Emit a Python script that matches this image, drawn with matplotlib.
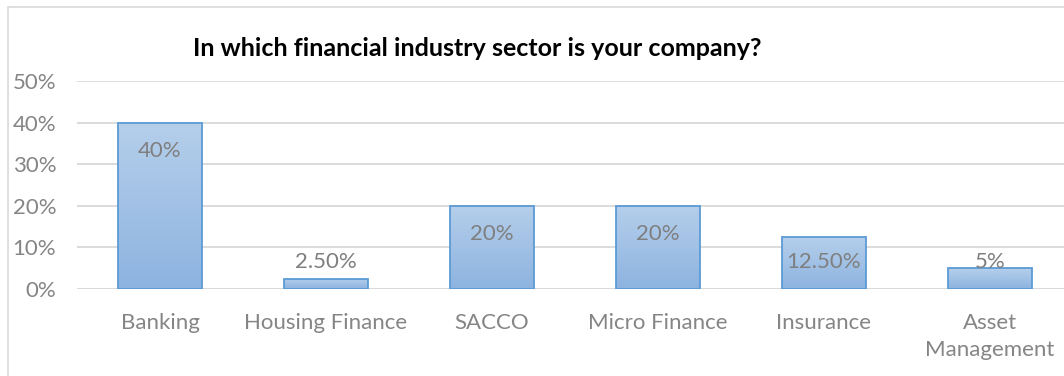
import numpy as np
import matplotlib.pyplot as plt
from matplotlib.patches import Rectangle
from matplotlib.colors import LinearSegmentedColormap

sectors = ['Banking', 'Housing Finance', 'SACCO', 'Micro Finance', 'Insurance', 'Asset\nManagement']
shares = [0.40, 0.025, 0.20, 0.20, 0.125, 0.05]
share_labels = ['40%', '2.50%', '20%', '20%', '12.50%', '5%']
yticks = [0, 0.1, 0.2, 0.3, 0.4, 0.5]

plt.rcParams['font.family'] = ['Lato', 'DejaVu Sans']

W, H = 1064, 376
fig = plt.figure(figsize=(W / 100, H / 100), dpi=100)

# outer chart frame (runs off the right and bottom edge)
fig.patches.append(Rectangle((8 / W, -0.1), 1.2, (H - 7) / H + 0.1, transform=fig.transFigure,
                             fill=False, edgecolor='#d9d9d9', lw=1.2))

ax = fig.add_axes([77 / W, (H - 289) / H, 996 / W, 208 / H])
x = np.arange(len(sectors))
bars = ax.bar(x, shares, width=0.505, color='none', edgecolor='#5b9bd5', lw=1.3, zorder=3)

grad = LinearSegmentedColormap.from_list('g', ['#8db3e0', '#b5cfeb'])
for b in bars:
    x0, y0, w, h = b.get_x(), b.get_y(), b.get_width(), b.get_height()
    im = ax.imshow(np.linspace(0, 1, 100).reshape(-1, 1), cmap=grad, origin='lower',
                   extent=[x0, x0 + w, y0, y0 + h], aspect='auto', zorder=2)
    im.set_clip_path(b)

# value labels sit inside the bar top, pushed up for short bars
for xi, v, s in zip(x, shares, share_labels):
    ax.text(xi, max(v - 0.068, 0.065), s, ha='center', va='center', fontsize=16,
            color='#7f7f7f', zorder=4)

ax.set_xlim(-0.5, len(sectors) - 0.5)
ax.set_ylim(0, 0.5)
ax.set_yticks(yticks)
ax.set_yticklabels([f'{int(t * 100)}%' for t in yticks])
ax.set_xticks(x)
ax.set_xticklabels(sectors, linespacing=1.45)
ax.tick_params(length=0, labelsize=16, labelcolor='#858585')
ax.tick_params(axis='y', pad=15)
ax.tick_params(axis='x', pad=17)
ax.yaxis.grid(True, color='#d9d9d9', lw=1.3, zorder=0)
for sp in ax.spines.values():
    sp.set_visible(False)
ax.axhline(0, color='#d9d9d9', lw=1.3, zorder=1)

fig.text(477 / W, (H - 48) / H, 'In which financial industry sector is your company?',
         ha='center', va='center', fontsize=18, fontweight='bold', color='#000000')

fig.savefig('out.png', dpi=100)
